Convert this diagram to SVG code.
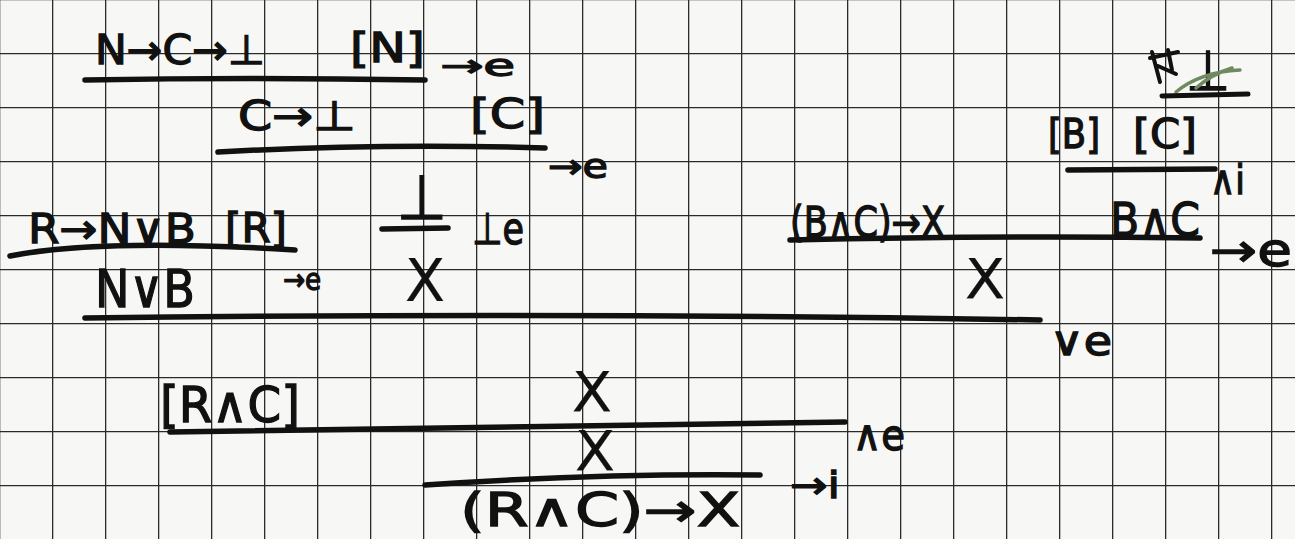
<svg xmlns="http://www.w3.org/2000/svg" width="1295" height="539" viewBox="0 0 1295 539">
<defs>
<pattern id="grid" patternUnits="userSpaceOnUse" x="52" y="53" width="53" height="54">
<line x1="0" y1="0" x2="0" y2="54" stroke="#2a2a2a" stroke-width="2.6"/>
<line x1="0" y1="0" x2="53" y2="0" stroke="#2a2a2a" stroke-width="2.6"/>
</pattern>
<style>
.f{font-family:"DejaVu Sans","Liberation Sans",sans-serif;fill:#111;stroke:#111;stroke-width:1.3;font-size:42px}
.x{stroke-width:0.2}
.rule{fill:none;stroke:#111;stroke-width:5.5;stroke-linecap:round}
</style>
</defs>
<rect width="1295" height="539" fill="#f7f7f5"/>
<rect width="1295" height="539" fill="url(#grid)"/>

<g id="connectors">
<path class="rule" d="M85 80 Q 250 77 425 80"/>
<path class="rule" d="M218 152 Q 380 143 545 148"/>
<path class="rule" d="M382 229 L448 228"/>
<path class="rule" d="M10 256 Q 100 238 295 250"/>
<path class="rule" d="M85 318 Q 560 312 1040 320"/>
<path class="rule" d="M790 240 Q 1000 235 1200 238"/>
<path class="rule" d="M1068 170 L1215 169"/>
<path class="rule" d="M170 432 Q 500 426 845 422"/>
<path class="rule" d="M425 485 Q 600 473 760 475"/>
</g>

<g id="n1"><text class="f" x="95" y="64" textLength="170" lengthAdjust="spacingAndGlyphs" style="font-size:41px">N→C→⊥</text></g>
<g id="n2"><text class="f" x="350" y="62" textLength="75" lengthAdjust="spacingAndGlyphs" style="font-size:40px">[N]</text></g>
<g id="l1"><text class="f" x="440" y="76" textLength="75" lengthAdjust="spacingAndGlyphs" style="font-size:30px">→e</text></g>
<g id="n3"><text class="f" x="238" y="130" textLength="118" lengthAdjust="spacingAndGlyphs" style="font-size:41px">C→⊥</text></g>
<g id="n4"><text class="f" x="470" y="128" textLength="75" lengthAdjust="spacingAndGlyphs" style="font-size:40px">[C]</text></g>
<g id="l2"><text class="f" x="548" y="178" textLength="60" lengthAdjust="spacingAndGlyphs" style="font-size:34px">→e</text></g>
<g id="n5"><text class="f" x="397" y="219" textLength="50" lengthAdjust="spacingAndGlyphs" style="font-size:62px">⊥</text></g>
<g id="l3"><text class="f" x="472" y="244" textLength="52" lengthAdjust="spacingAndGlyphs" style="font-size:44px">⊥e</text></g>
<g id="n6"><text class="f x" x="405" y="301" textLength="40" lengthAdjust="spacingAndGlyphs" style="font-size:58px">X</text></g>
<g id="n7"><text class="f" x="28" y="243" textLength="168" lengthAdjust="spacingAndGlyphs" style="font-size:41px">R→N∨B</text></g>
<g id="n8"><text class="f" x="225" y="242" textLength="62" lengthAdjust="spacingAndGlyphs" style="font-size:40px">[R]</text></g>
<g id="l4"><text class="f" x="283" y="290" textLength="38" lengthAdjust="spacingAndGlyphs" style="font-size:30px">→e</text></g>
<g id="n9"><text class="f" x="95" y="307" textLength="100" lengthAdjust="spacingAndGlyphs" style="font-size:52px">N∨B</text></g>
<g id="l5"><text class="f" x="1050" y="355" textLength="62" lengthAdjust="spacingAndGlyphs" style="font-size:40px">∨e</text></g>
<g id="n10"><text class="f" x="790" y="237" textLength="155" lengthAdjust="spacingAndGlyphs" style="font-size:42px">(B∧C)→X</text></g>
<g id="n11"><text class="f" x="1110" y="236" textLength="90" lengthAdjust="spacingAndGlyphs" style="font-size:46px">B∧C</text></g>
<g id="l6"><text class="f" x="1210" y="266" textLength="82" lengthAdjust="spacingAndGlyphs" style="font-size:46px">→e</text></g>
<g id="n12"><text class="f x" x="965" y="298" textLength="40" lengthAdjust="spacingAndGlyphs" style="font-size:56px">X</text></g>
<g id="n13"><text class="f" x="1048" y="148" textLength="52" lengthAdjust="spacingAndGlyphs" style="font-size:40px">[B]</text></g>
<g id="n14"><text class="f" x="1133" y="148" textLength="64" lengthAdjust="spacingAndGlyphs" style="font-size:40px">[C]</text></g>
<g id="l7"><text class="f" x="1210" y="194" textLength="35" lengthAdjust="spacingAndGlyphs" style="font-size:40px">∧i</text></g>
<g id="scribble">
<text class="f" x="1186" y="90" textLength="44" lengthAdjust="spacingAndGlyphs" style="font-size:56px">⊥</text>
<path d="M1150 58 L1178 52 M1152 52 L1160 82 M1158 66 L1176 74 M1168 50 L1172 70" fill="none" stroke="#111" stroke-width="4" stroke-linecap="round"/>
<path d="M1176 92 Q 1200 72 1240 70 M1196 88 Q 1212 74 1232 68" fill="none" stroke="#6f8a5e" stroke-width="3.5" stroke-linecap="round"/>
<path class="rule" d="M1162 96 L1248 94" style="stroke-width:5"/>
</g>
<g id="n15"><text class="f" x="160" y="422" textLength="140" lengthAdjust="spacingAndGlyphs" style="font-size:50px">[R∧C]</text></g>
<g id="n16"><text class="f x" x="572" y="411" textLength="40" lengthAdjust="spacingAndGlyphs" style="font-size:56px">X</text></g>
<g id="l8"><text class="f" x="853" y="450" textLength="52" lengthAdjust="spacingAndGlyphs" style="font-size:42px">∧e</text></g>
<g id="n17"><text class="f x" x="575" y="470" textLength="40" lengthAdjust="spacingAndGlyphs" style="font-size:56px">X</text></g>
<g id="l9"><text class="f" x="790" y="498" textLength="50" lengthAdjust="spacingAndGlyphs" style="font-size:38px">→i</text></g>
<g id="n18"><text class="f" x="460" y="526" textLength="280" lengthAdjust="spacingAndGlyphs" style="font-size:46px">(R∧C)→X</text></g>
</svg>
